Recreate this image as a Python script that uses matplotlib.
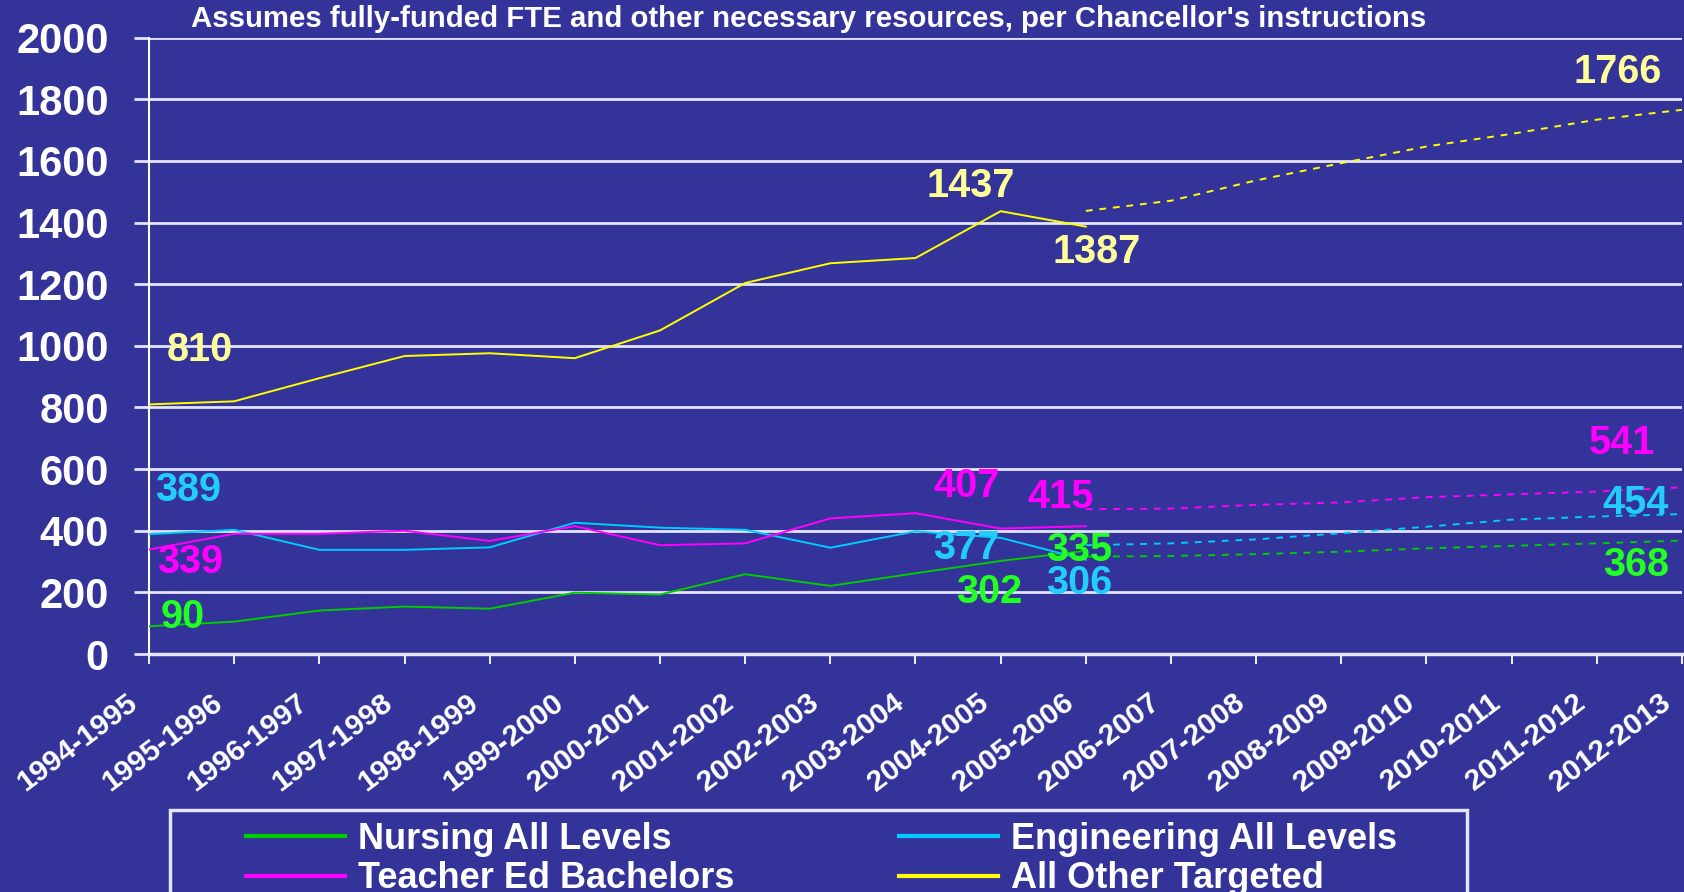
import matplotlib
matplotlib.use("Agg")
import matplotlib.pyplot as plt
import matplotlib.transforms as mtransforms
from matplotlib.patches import Rectangle
from matplotlib.lines import Line2D

# ---------------- data ----------------
categories = ['1994-1995', '1995-1996', '1996-1997', '1997-1998', '1998-1999',
              '1999-2000', '2000-2001', '2001-2002', '2002-2003', '2003-2004',
              '2004-2005', '2005-2006', '2006-2007', '2007-2008', '2008-2009',
              '2009-2010', '2010-2011', '2011-2012', '2012-2013']

# actual values, 1994-1995 .. 2005-2006
nursing_actual = [90, 105, 141, 154, 147, 199, 193, 259, 221, 262, 302, 335]
engineering_actual = [389, 403, 338, 338, 346, 426, 410, 403, 345, 398, 377, 306]
teacher_actual = [339, 390, 390, 400, 367, 415, 353, 359, 440, 457, 407, 415]
other_actual = [810, 820, 895, 967, 976, 960, 1050, 1204, 1268, 1285, 1437, 1387]

# projections, 2005-2006 .. 2012-2013
nursing_proj = [316, 318, 324, 332, 343, 351, 359, 368]
engineering_proj = [353, 359, 372, 392, 413, 436, 446, 454]
teacher_proj = [470, 472, 484, 492, 509, 518, 527, 541]
other_proj = [1438, 1471, 1537, 1593, 1647, 1688, 1734, 1766]

series_names = ['Nursing All Levels', 'Engineering All Levels',
                'Teacher Ed Bachelors', 'All Other Targeted']

title_text = "Assumes fully-funded FTE and other necessary resources, per Chancellor's instructions"

# ---------------- style ----------------
BG = '#333399'
GRID = '#E4E4FF'
C_N, C_E, C_T, C_O = '#00CC00', '#00CCFF', '#FF00FF', '#FFFF00'
L_N, L_E, L_T, L_O = '#22FF22', '#22CCFF', '#FF00FF', '#FFFF99'
FONT = ['Liberation Sans', 'DejaVu Sans']
plt.rcParams['font.family'] = FONT

fig = plt.figure(figsize=(16.84, 8.92), dpi=100, facecolor=BG)
ax = fig.add_axes([149 / 1684, 1 - 654 / 892, (1682 - 149) / 1684, (654 - 37.7) / 892])
ax.set_facecolor(BG)

x_all = list(range(len(categories)))
n_act = len(nursing_actual)
x_act = x_all[:n_act]
x_proj = x_all[n_act - 1:]

lw = 1.4
dash = (0, (3.5, 3.5))
ax.plot(x_act, nursing_actual, color=C_N, lw=lw, zorder=4)
ax.plot(x_act, engineering_actual, color=C_E, lw=lw, zorder=4)
ax.plot(x_act, teacher_actual, color=C_T, lw=lw, zorder=4)
ax.plot(x_act, other_actual, color=C_O, lw=lw, zorder=4)
ax.plot(x_proj, nursing_proj, color=C_N, lw=lw, ls=dash, zorder=4)
ax.plot(x_proj, engineering_proj, color=C_E, lw=lw, ls=dash, zorder=4)
ax.plot(x_proj, teacher_proj, color=C_T, lw=lw, ls=dash, zorder=4)
ax.plot(x_proj, other_proj, color=C_O, lw=lw, ls=dash, zorder=4)

ax.set_xlim(0, len(categories) - 1)
ax.set_ylim(0, 2000)
ax.set_yticks(range(0, 2001, 200))
ax.set_xticks(x_all)
ax.set_xticklabels(categories, rotation=37, ha='right', va='center',
                   rotation_mode='anchor', fontsize=21.5, fontweight='bold', color='white')
ax.tick_params(axis='x', length=7, width=1.3, color='white', pad=26, direction='out')
shift = mtransforms.ScaledTranslation(-0.15, 0, fig.dpi_scale_trans)
for lab_ in ax.get_xticklabels():
    lab_.set_transform(lab_.get_transform() + shift)
ax.tick_params(axis='y', length=11, width=2, color=GRID, pad=18, labelsize=30,
               labelcolor='white', direction='out')
for lab_ in ax.get_yticklabels():
    lab_.set_fontweight('bold')

ax.grid(axis='y', color=GRID, lw=2, zorder=1)
ax.set_axisbelow(True)
for s in ['top', 'right', 'bottom']:
    ax.spines[s].set_visible(False)
ax.spines['left'].set_color('white')
ax.spines['left'].set_linewidth(1.5)
ax.axhline(0, color=GRID, lw=2.5, zorder=2, clip_on=False)

# ---------------- value labels ----------------
fs = 28.5
def lab(x, y, text, color):
    ax.text(x, y, text, color=color, fontsize=fs, fontweight='bold',
            ha='center', va='center', zorder=5, clip_on=False)

lab(0.6, 987, str(other_actual[0]), L_O)
lab(9.65, 1519, str(other_actual[10]), L_O)
lab(11.13, 1305, str(other_actual[11]), L_O)
lab(17.25, 1890, str(other_proj[-1]), L_O)

lab(0.46, 532, str(engineering_actual[0]), L_E)
lab(9.6, 344, str(engineering_actual[10]), L_E)
lab(10.92, 230, str(engineering_actual[11]), L_E)
lab(17.46, 490, str(engineering_proj[-1]), L_E)

lab(0.48, 299, str(teacher_actual[0]), L_T)
lab(9.6, 545, str(teacher_actual[10]), L_T)
lab(10.7, 510, str(teacher_actual[11]), L_T)
lab(17.3, 685, str(teacher_proj[-1]), L_T)

lab(0.39, 120, str(nursing_actual[0]), L_N)
lab(9.87, 201, str(nursing_actual[10]), L_N)
lab(10.92, 338, str(nursing_actual[11]), L_N)
lab(17.46, 289, str(nursing_proj[-1]), L_N)

# ---------------- title ----------------
fig.text(191 / 1684, 1 - 19 / 892, title_text, color='white', fontsize=21.2,
         fontweight='bold', ha='left', va='center')

# ---------------- legend ----------------
fig.patches.append(Rectangle((170 / 1684, -0.05), (1467 - 170) / 1684, 0.05 + 1 - 810 / 892,
                             transform=fig.transFigure, facecolor=BG, edgecolor=GRID,
                             lw=2.5, zorder=0))
handles = [Line2D([], [], color=C_N, lw=3), Line2D([], [], color=C_T, lw=3),
           Line2D([], [], color=C_E, lw=3), Line2D([], [], color=C_O, lw=3)]
labels = [series_names[0], series_names[2], series_names[1], series_names[3]]
leg = fig.legend(handles, labels, ncol=2, frameon=False, loc='upper left',
                 bbox_to_anchor=(228 / 1684, 1 - 804 / 892),
                 prop={'family': FONT, 'size': 26, 'weight': 'bold'},
                 handlelength=2.75, handletextpad=0.35, columnspacing=4.55,
                 labelspacing=0.12, borderpad=0)
for t in leg.get_texts():
    t.set_color('white')

fig.savefig('out.png', dpi=100, facecolor=BG)
